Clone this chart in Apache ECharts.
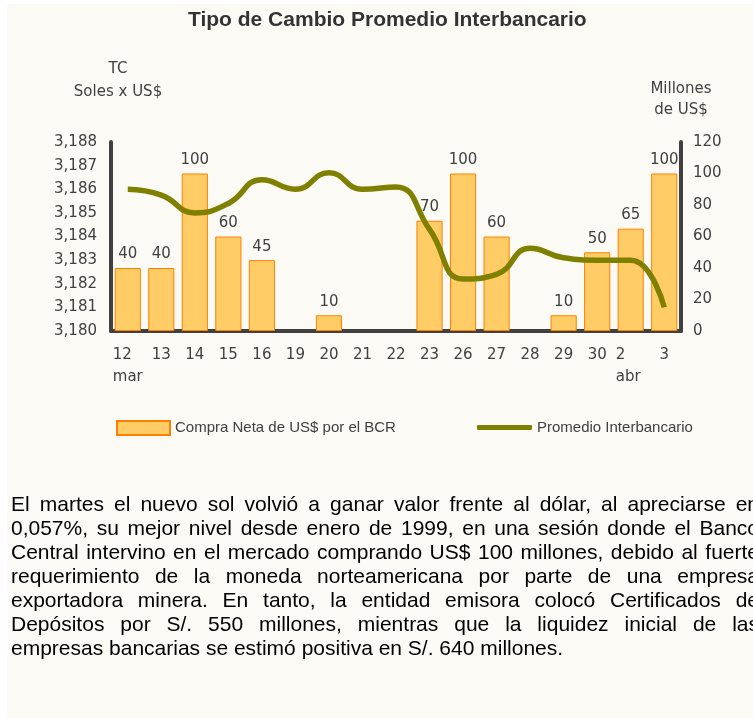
<!DOCTYPE html>
<html>
<head>
<meta charset="utf-8">
<script src="https://cdn.jsdelivr.net/npm/echarts@6/dist/echarts.min.js"></script>
<style>
  html, body { margin: 0; padding: 0; background: #ffffff; }
  #wrap { position: relative; width: 753px; height: 718px; overflow: hidden; }
  #bg { position: absolute; left: 7px; top: 4px; right: 0; bottom: 0; background: #FBFAF5; }
  #chart { position: absolute; left: 0; top: 0; width: 753px; height: 718px; }
  #note { position: absolute; left: 11px; top: 492px; width: 748px;
          font-family: "Liberation Sans", Arial, sans-serif; font-size: 21px; line-height: 24px; color: #000; }
  #note span { display: block; text-align: justify; text-align-last: justify; white-space: nowrap; }
  #note span.last { text-align-last: left; }
</style>
</head>
<body>
<div id="wrap">
  <div id="bg"></div>
  <div id="chart"></div>
  <div id="note"></div>
</div>
<script>
const categories = ['12\nmar','13','14','15','16','19','20','21','22','23','26','27','28','29','30','2\nabr','3'];
const compraNeta = [40, 40, 100, 60, 45, 0, 10, 0, 0, 70, 100, 60, 0, 10, 50, 65, 100];
const promedioTC = [3.1860, 3.18575, 3.1850, 3.1854, 3.1864, 3.1860, 3.1867, 3.1860, 3.1861, 3.1843, 3.1822, 3.1824, 3.1835, 3.1831, 3.1830, 3.1830, 3.1810];
const leftTicks = { min: 3.180, max: 3.188, interval: 0.001 };
const rightTicks = { min: 0, max: 120, interval: 20 };
const noteLines = [
  'El martes el nuevo sol volvió a ganar valor frente al dólar, al apreciarse en',
  '0,057%, su mejor nivel desde enero de 1999, en una sesión donde el Banco',
  'Central intervino en el mercado comprando US$ 100 millones, debido al fuerte',
  'requerimiento de la moneda norteamericana por parte de una empresa',
  'exportadora minera. En tanto, la entidad emisora colocó Certificados de',
  'Depósitos por S/. 550  millones, mientras que la liquidez inicial de las',
  'empresas bancarias se estimó positiva en S/. 640 millones.'
];

const note = document.getElementById('note');
noteLines.forEach((t, i) => {
  const s = document.createElement('span');
  s.textContent = t;
  if (i === noteLines.length - 1) s.className = 'last';
  note.appendChild(s);
});

const axisFont = 'DejaVu Sans';
const gray = '#404040';
const legendText = { fontFamily: 'Liberation Sans', fontSize: 15, color: gray };
const barData = compraNeta.map(v => v === 0 ? { value: v, itemStyle: { borderWidth: 0, opacity: 0 } } : v);
const chart = echarts.init(document.getElementById('chart'));
chart.setOption({
  animation: false,
  title: {
    text: 'Tipo de Cambio Promedio Interbancario',
    left: 183, top: 5,
    textStyle: { fontFamily: 'Liberation Sans', fontWeight: 'bold', fontSize: 21, color: '#333333' }
  },
  legend: [
    {
      left: 111, top: 415,
      itemWidth: 53, itemHeight: 14,
      textStyle: legendText,
      data: [{ name: 'Compra Neta de US$ por el BCR', icon: 'rect' }]
    },
    {
      left: 472, top: 415,
      itemWidth: 55, itemHeight: 5,
      textStyle: legendText,
      data: [{ name: 'Promedio Interbancario', icon: 'roundRect' }]
    }
  ],
  grid: { left: 111, right: 72, top: 142, bottom: 387, containLabel: false },
  xAxis: {
    type: 'category',
    data: categories,
    axisLine: { lineStyle: { color: gray, width: 4 } },
    axisTick: { show: false },
    axisLabel: {
      interval: 0,
      margin: 13, fontFamily: axisFont, fontSize: 15, color: gray, lineHeight: 22,
      formatter: v => {
        const parts = v.split('\n');
        if (parts.length > 1) return '{a|' + parts[0] + '}\n{b|' + parts[1] + '}';
        return v;
      },
      rich: {
        a: { width: 30, align: 'left', fontFamily: axisFont, fontSize: 15, color: gray, lineHeight: 22 },
        b: { width: 30, align: 'left', fontFamily: axisFont, fontSize: 15, color: gray, lineHeight: 22 }
      }
    }
  },
  yAxis: [
    {
      type: 'value', position: 'left',
      min: leftTicks.min, max: leftTicks.max, interval: leftTicks.interval,
      name: 'TC\nSoles x US$', nameLocation: 'end', nameGap: 38,
      nameTextStyle: { fontFamily: axisFont, fontSize: 15, color: gray, lineHeight: 23, align: 'center', padding: [0, 0, 0, 14] },
      axisLine: { show: true, lineStyle: { color: gray, width: 4 } },
      axisTick: { show: false },
      splitLine: { show: false },
      axisLabel: { margin: 14, fontFamily: axisFont, fontSize: 15, color: gray,
        formatter: v => v.toFixed(3).replace('.', ',') }
    },
    {
      type: 'value', position: 'right',
      min: rightTicks.min, max: rightTicks.max, interval: rightTicks.interval,
      name: 'Millones\nde US$', nameLocation: 'end', nameGap: 21,
      nameTextStyle: { fontFamily: axisFont, fontSize: 15, color: gray, lineHeight: 21, align: 'center' },
      axisLine: { show: true, lineStyle: { color: gray, width: 4 } },
      axisTick: { show: false },
      splitLine: { show: false },
      axisLabel: { margin: 12, fontFamily: axisFont, fontSize: 15, color: gray }
    }
  ],
  series: [
    {
      name: 'Compra Neta de US$ por el BCR',
      type: 'bar', yAxisIndex: 1,
      data: barData,
      barCategoryGap: '22%',
      itemStyle: { color: '#FFCC66', borderColor: '#FF8000', borderWidth: 1 },
      label: { show: true, position: 'top', distance: 6, fontFamily: axisFont, fontSize: 15, color: gray,
        formatter: p => p.value ? String(p.value) : '' }
    },
    {
      name: 'Promedio Interbancario',
      type: 'line', yAxisIndex: 0,
      data: promedioTC,
      smooth: 0.5, symbol: 'none',
      lineStyle: { color: '#808000', width: 5.5 },
      itemStyle: { color: '#808000' }
    }
  ]
});
</script>
</body>
</html>
